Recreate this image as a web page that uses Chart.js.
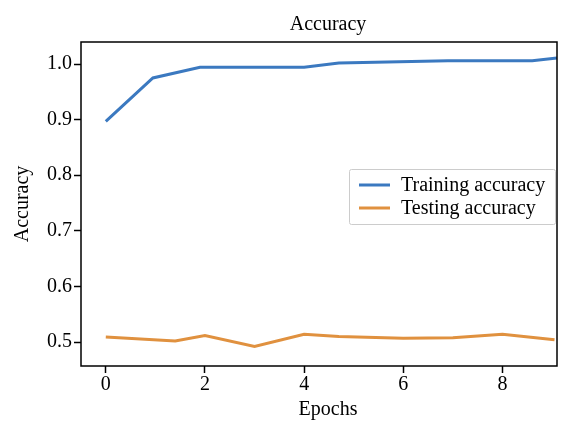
<!DOCTYPE html>
<html><head><meta charset="utf-8">
<script src="https://cdn.jsdelivr.net/npm/chart.js@4.4.0/dist/chart.umd.min.js"></script>
<style>html,body{margin:0;padding:0;background:#fff}#wrap{width:566px;height:424px}</style>
</head><body><div id="wrap"><canvas id="c" width="566" height="424"></canvas></div>
<script>
const trainEpochs = [0, 0.95, 1.9, 4.0, 4.7, 6.9, 8.6, 9.1];
const trainAcc    = [0.897, 0.975, 0.994, 0.994, 1.002, 1.006, 1.006, 1.011];
const testEpochs  = [0, 1.4, 2, 3, 4, 4.7, 6, 7, 8, 9.05];
const testAcc     = [0.509, 0.502, 0.512, 0.492, 0.514, 0.510, 0.507, 0.508, 0.514, 0.504];
const xTicks = [0, 2, 4, 6, 8];
const yTicks = [0.5, 0.6, 0.7, 0.8, 0.9, 1.0];
const seriesLabels = ['Training accuracy', 'Testing accuracy'];
const chartTitle = 'Accuracy';
const xTitle = 'Epochs';
const yTitle = 'Accuracy';
const FONT = "'Liberation Serif', 'Times New Roman', serif";
const FS = 20;

const framePlugin = {
  id: 'frame',
  afterDatasetsDraw(chart) {
    const {ctx, chartArea: a} = chart;
    ctx.save();
    ctx.strokeStyle = '#000'; ctx.lineWidth = 1.5;
    ctx.strokeRect(a.left, a.top, a.right - a.left, a.bottom - a.top);
    // titles
    ctx.fillStyle = '#000';
    ctx.font = FS + 'px ' + FONT;
    ctx.textAlign = 'center'; ctx.textBaseline = 'alphabetic';
    const cx = a.left + (a.right - a.left) / 2 + 9;
    ctx.fillText(chartTitle, cx, 30);
    ctx.fillText(xTitle, cx, 415);
    // legend
    const ds = chart.data.datasets;
    const bw = 208, bh = 55;
    const bx = a.right - bw;
    const by = 169;
    ctx.fillStyle = 'rgba(255,255,255,0.85)';
    ctx.strokeStyle = '#cccccc'; ctx.lineWidth = 1;
    ctx.beginPath();
    if (ctx.roundRect) ctx.roundRect(bx + 0.5, by + 0.5, bw - 2, bh, 2); else ctx.rect(bx + 0.5, by + 0.5, bw - 2, bh);
    ctx.fill(); ctx.stroke();
    ctx.textAlign = 'left'; ctx.textBaseline = 'middle';
    ds.forEach((d, i) => {
      const y = by + 16 + i * 23;
      ctx.strokeStyle = d.borderColor; ctx.lineWidth = 3;
      ctx.beginPath(); ctx.moveTo(bx + 10, y); ctx.lineTo(bx + 41, y); ctx.stroke();
      ctx.fillStyle = '#000';
      ctx.fillText(d.label, bx + 52, y + 1);
    });
    ctx.restore();
  }
};

new Chart(document.getElementById('c'), {
  type: 'line',
  data: {
    datasets: [
      {label: seriesLabels[0], data: trainEpochs.map((x, i) => ({x, y: trainAcc[i]})),
       borderColor: '#3b79c0', borderWidth: 3, pointRadius: 0, fill: false, tension: 0},
      {label: seriesLabels[1], data: testEpochs.map((x, i) => ({x, y: testAcc[i]})),
       borderColor: '#e0913f', borderWidth: 3, pointRadius: 0, fill: false, tension: 0}
    ]
  },
  options: {
    responsive: false, animation: false, devicePixelRatio: 1,
    layout: {padding: {left: 0, right: 9, top: 42, bottom: 0}},
    plugins: {
      legend: {display: false},
      tooltip: {enabled: false},
      title: {display: false}
    },
    scales: {
      x: {
        type: 'linear', min: -0.5, max: 9.1,
        afterBuildTicks: s => { s.ticks = xTicks.map(v => ({value: v})); },
        afterFit: s => { s.height = 58; },
        grid: {drawOnChartArea: false, tickLength: 7, color: '#000', tickWidth: 1.5},
        border: {display: false},
        ticks: {color: '#000', font: {family: FONT, size: FS}, padding: 0, maxRotation: 0},
        title: {display: false}
      },
      y: {
        type: 'linear', min: 0.457, max: 1.0396,
        afterBuildTicks: s => { s.ticks = yTicks.map(v => ({value: v})); },
        afterFit: s => { s.width = 81; },
        grid: {drawOnChartArea: false, tickLength: 7, color: '#000', tickWidth: 1.5},
        border: {display: false},
        ticks: {color: '#000', font: {family: FONT, size: FS}, padding: 2, callback: v => v.toFixed(1)},
        title: {display: true, text: yTitle, color: '#000', font: {family: FONT, size: FS}, padding: {top: 11, bottom: 4}}
      }
    }
  },
  plugins: [framePlugin]
});
</script></body></html>
